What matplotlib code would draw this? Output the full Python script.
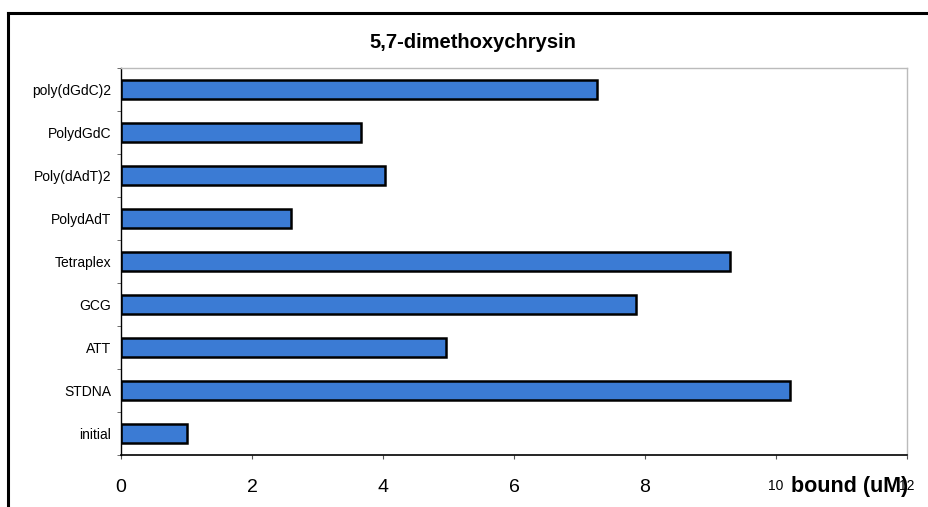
import matplotlib.pyplot as plt
from matplotlib.lines import Line2D

plt.rcParams['font.family'] = ['Liberation Sans', 'DejaVu Sans']

# data, top to bottom as in the chart
categories = ["poly(dGdC)2", "PolydGdC", "Poly(dAdT)2", "PolydAdT",
              "Tetraplex", "GCG", "ATT", "STDNA", "initial"]
bound = [7.26, 3.66, 4.03, 2.6, 9.3, 7.87, 4.96, 10.22, 1.01]
x_ticks = [0, 2, 4, 6, 8, 10, 12]

W, H = 929, 507
fig = plt.figure(figsize=(W / 100, H / 100), dpi=100)
ax = fig.add_axes([121 / W, 1 - 455 / H, (907 - 121) / W, (455 - 68) / H])

n = len(categories)
ypos = [n - 1 - i for i in range(n)]
ax.barh(ypos, bound, height=0.42, color='#3b7bd4', edgecolor='black', linewidth=1.8)

ax.set_xlim(0, 12)
ax.set_ylim(-0.5, n - 0.5)

ax.set_yticks(ypos)
ax.set_yticklabels(categories, fontsize=10)
ax.tick_params(axis='y', which='major', length=0, pad=7)
ax.set_yticks([i - 0.5 for i in range(n + 1)], minor=True)
ax.tick_params(axis='y', which='minor', length=3, color='#555555')

ax.set_xticks(x_ticks)
ax.set_xticklabels([str(v) for v in x_ticks])
ax.tick_params(axis='x', length=3, pad=14, labelsize=14, color='#555555')
for lab in ax.get_xticklabels():
    if lab.get_text() in ('10', '12'):
        lab.set_fontsize(10)

for s in ('top', 'right'):
    ax.spines[s].set_color('#bbbbbb')
    ax.spines[s].set_linewidth(1)
ax.spines['left'].set_linewidth(1)
ax.spines['bottom'].set_linewidth(1.2)

fig.text(473 / W, 1 - 42 / H, "5,7-dimethoxychrysin", fontsize=14.5, fontweight='bold',
         ha='center', va='center')
fig.text(791 / W, 1 - 492 / H, "bound (uM)", fontsize=15.5, fontweight='bold',
         ha='left', va='baseline')

# outer chart border (top and left visible)
fig.add_artist(Line2D([8 / W, 1], [1 - 13 / H, 1 - 13 / H], color='black', linewidth=2.2,
                      transform=fig.transFigure))
fig.add_artist(Line2D([8 / W, 8 / W], [0, 1 - 13 / H], color='black', linewidth=2.2,
                      transform=fig.transFigure))

fig.savefig('out.png', dpi=100)
